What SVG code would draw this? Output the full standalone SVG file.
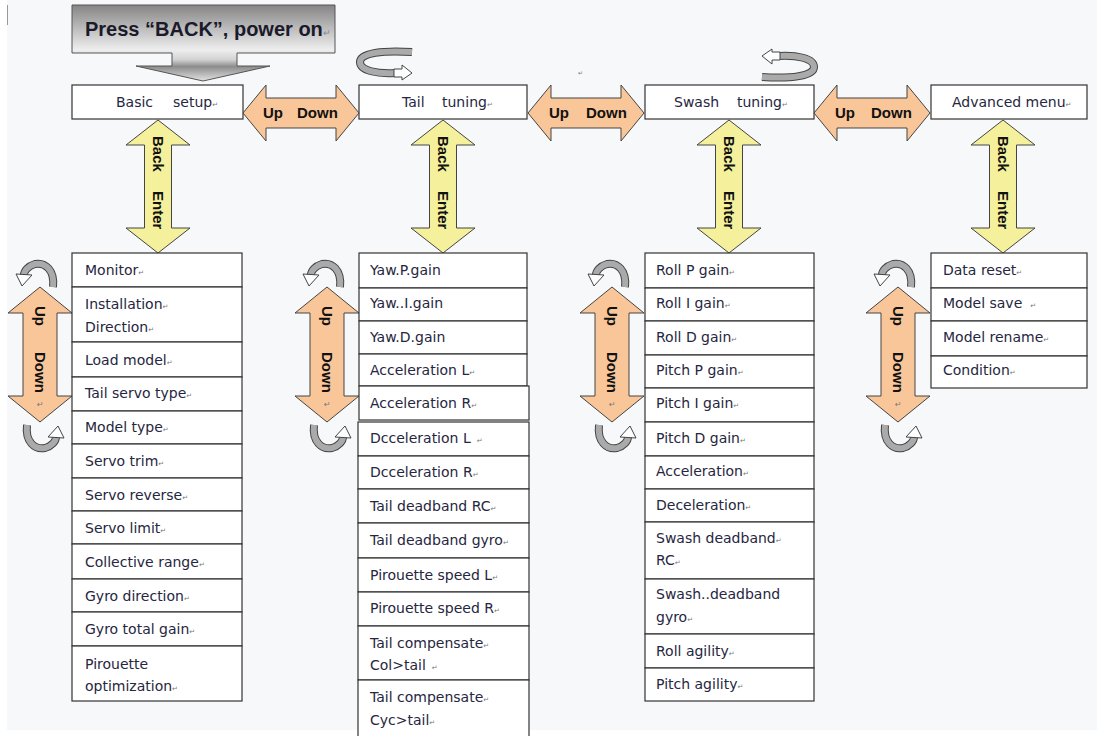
<svg xmlns="http://www.w3.org/2000/svg" xmlns:xlink="http://www.w3.org/1999/xlink" width="1097" height="736" viewBox="0 0 1097 736">
<style>
.box{fill:#fff;stroke:#333;stroke-width:1.2}
.t{font-family:"DejaVu Sans","Liberation Sans",sans-serif;font-size:14px;fill:#262640}
.m{font-size:7px;fill:#777}
.b{font-family:"Liberation Sans",Arial,sans-serif;font-weight:bold;font-size:15px;fill:#111}
.ud{fill:#f9c699;stroke:#444;stroke-width:1}
.be{fill:#f4f09b;stroke:#444;stroke-width:1}
.bandO{fill:none;stroke:#444;stroke-width:8}
.bandI{fill:none;stroke:#aaa;stroke-width:6}
.ah{fill:#fff;stroke:#444;stroke-width:1}
</style>
<defs>
<linearGradient id="gg" gradientUnits="userSpaceOnUse" x1="0" y1="5" x2="0" y2="81">
<stop offset="0" stop-color="#858585"/>
<stop offset="0.59" stop-color="#eeeeee"/>
<stop offset="0.72" stop-color="#d2d2d2"/>
<stop offset="0.81" stop-color="#8c8c8c"/>
<stop offset="1" stop-color="#e2e2e2"/>
</linearGradient>
<g id="loopV">
<path class="bandO" d="M13 25 C15 8 5 0 -5 2 C-12 4 -16 9 -16 13"/>
<path class="bandI" d="M13 25 C15 8 5 0 -5 2 C-12 4 -16 9 -16 13"/>
<polygon class="ah" points="-24,12 -8,13 -18,24"/>
</g>
<g id="loopH">
<path class="bandO" d="M54 5 C25 3 2 6 2 15 C2 24 20 27 37 26"/>
<path class="bandI" d="M54 5 C25 3 2 6 2 15 C2 24 20 27 37 26"/>
<polygon class="ah" points="36,22 44,22 44,18 54,26 44,33 44,30 36,30"/>
</g>
</defs>
<rect x="0" y="0" width="1097" height="736" fill="#fff"/>
<rect x="7" y="0" width="1090" height="730" fill="#f7f8fa"/>
<line x1="7.5" y1="5" x2="7.5" y2="25" stroke="#999" stroke-width="1"/>

<g id="start">
<polygon points="72,5 335,5 335,53 237,53 237,66 270,66 203,81 136,66 172,66 172,53 72,53" fill="url(#gg)" stroke="#555" stroke-width="1"/>
<text x="85" y="36" font-family="Liberation Sans, Arial, sans-serif" font-weight="bold" font-size="20" fill="#1a1a2a">Press “BACK”, power on<tspan font-size="9" fill="#888" font-weight="normal">↵</tspan></text>
</g>

<g id="loops-top">
<use xlink:href="#loopH" transform="translate(358,47)"/>
<use xlink:href="#loopH" transform="translate(816,82) rotate(180)"/>
<text x="578" y="75" font-family="DejaVu Sans, sans-serif" font-size="6" fill="#777">↵</text>
</g>

<g id="basic-setup">
<rect class="box" x="72" y="85" width="171" height="34"/>
<text class="t" x="116" y="107">Basic</text><text class="t" x="173" y="107">setup<tspan class="m">↵</tspan></text>
</g>
<g id="tail-tuning">
<rect class="box" x="359" y="85" width="168" height="34"/>
<text class="t" x="402" y="107">Tail</text><text class="t" x="442" y="107">tuning<tspan class="m">↵</tspan></text>
</g>
<g id="swash-tuning">
<rect class="box" x="645" y="85" width="169" height="34"/>
<text class="t" x="674" y="107">Swash</text><text class="t" x="737" y="107">tuning<tspan class="m">↵</tspan></text>
</g>
<g id="advanced-menu">
<rect class="box" x="931" y="85" width="156" height="34"/>
<text class="t" x="952" y="107">Advanced menu<tspan class="m">↵</tspan></text>
</g>

<g id="connectors">
<polygon class="ud" points="243,113 266,85 266,98 336,98 336,85 359,113 336,141 336,128 266,128 266,141"/>
<text class="b" x="263" y="118">Up</text><text class="b" x="297" y="118">Down</text>
<polygon class="ud" points="528,113 551,85 551,98 621,98 621,85 644,113 621,141 621,128 551,128 551,141"/>
<text class="b" x="549" y="118">Up</text><text class="b" x="586" y="118">Down</text>
<polygon class="ud" points="814,113 837,85 837,98 907,98 907,85 930,113 907,141 907,128 837,128 837,141"/>
<text class="b" x="835" y="118">Up</text><text class="b" x="871" y="118">Down</text>

<polygon class="be" points="158,120 190,145 171.5,145 171.5,228 190,228 158,253 126,228 144.5,228 144.5,145 126,145"/>
<text class="b" transform="translate(153,136) rotate(90)">Back</text>
<text class="b" transform="translate(153,191) rotate(90)">Enter</text>
<polygon class="be" points="443,120 475,145 456.5,145 456.5,228 475,228 443,253 411,228 429.5,228 429.5,145 411,145"/>
<text class="b" transform="translate(438,136) rotate(90)">Back</text>
<text class="b" transform="translate(438,191) rotate(90)">Enter</text>
<polygon class="be" points="729,120 761,145 742.5,145 742.5,228 761,228 729,253 697,228 715.5,228 715.5,145 697,145"/>
<text class="b" transform="translate(724,136) rotate(90)">Back</text>
<text class="b" transform="translate(724,191) rotate(90)">Enter</text>
<polygon class="be" points="1003,120 1035,145 1016.5,145 1016.5,228 1035,228 1003,253 971,228 989.5,228 989.5,145 971,145"/>
<text class="b" transform="translate(998,136) rotate(90)">Back</text>
<text class="b" transform="translate(998,191) rotate(90)">Enter</text>

<polygon class="ud" points="40,287 72,313 57,313 57,396 72,396 40,422 8,396 23,396 23,313 8,313"/>
<text class="b" transform="translate(35,306) rotate(90)">Up</text>
<text class="b" transform="translate(35,352) rotate(90)">Down</text>
<text x="37" y="407" font-family="DejaVu Sans, sans-serif" font-size="8" fill="#777">↵</text>
<polygon class="ud" points="327,287 359,313 344,313 344,396 359,396 327,422 295,396 310,396 310,313 295,313"/>
<text class="b" transform="translate(322,306) rotate(90)">Up</text>
<text class="b" transform="translate(322,352) rotate(90)">Down</text>
<text x="324" y="407" font-family="DejaVu Sans, sans-serif" font-size="8" fill="#777">↵</text>
<polygon class="ud" points="612,287 644,313 629,313 629,396 644,396 612,422 580,396 595,396 595,313 580,313"/>
<text class="b" transform="translate(607,306) rotate(90)">Up</text>
<text class="b" transform="translate(607,352) rotate(90)">Down</text>
<text x="609" y="407" font-family="DejaVu Sans, sans-serif" font-size="8" fill="#777">↵</text>
<polygon class="ud" points="898,287 930,313 915,313 915,396 930,396 898,422 866,396 881,396 881,313 866,313"/>
<text class="b" transform="translate(893,306) rotate(90)">Up</text>
<text class="b" transform="translate(893,352) rotate(90)">Down</text>
<text x="895" y="407" font-family="DejaVu Sans, sans-serif" font-size="8" fill="#777">↵</text>

<use xlink:href="#loopV" transform="translate(40,262)"/>
<use xlink:href="#loopV" transform="translate(40,450) rotate(180)"/>
<use xlink:href="#loopV" transform="translate(327,262)"/>
<use xlink:href="#loopV" transform="translate(327,450) rotate(180)"/>
<use xlink:href="#loopV" transform="translate(612,262)"/>
<use xlink:href="#loopV" transform="translate(612,450) rotate(180)"/>
<use xlink:href="#loopV" transform="translate(898,262)"/>
<use xlink:href="#loopV" transform="translate(898,450) rotate(180)"/>
</g>

<g id="basic-list">
<rect class="box" x="72" y="253" width="170" height="34"/><text class="t" x="85" y="275">Monitor<tspan class="m">↵</tspan></text>
<rect class="box" x="72" y="287" width="170" height="55"/><text class="t" x="85" y="309">Installation<tspan class="m">↵</tspan></text><text class="t" x="85" y="332">Direction<tspan class="m">↵</tspan></text>
<rect class="box" x="72" y="342" width="170" height="35"/><text class="t" x="85" y="365">Load model<tspan class="m">↵</tspan></text>
<rect class="box" x="72" y="377" width="170" height="34"/><text class="t" x="85" y="398">Tail servo type<tspan class="m">↵</tspan></text>
<rect class="box" x="72" y="411" width="170" height="33"/><text class="t" x="85" y="432">Model type<tspan class="m">↵</tspan></text>
<rect class="box" x="72" y="444" width="170" height="34"/><text class="t" x="85" y="466">Servo trim<tspan class="m">↵</tspan></text>
<rect class="box" x="72" y="478" width="170" height="33"/><text class="t" x="85" y="500">Servo reverse<tspan class="m">↵</tspan></text>
<rect class="box" x="72" y="511" width="170" height="33"/><text class="t" x="85" y="533">Servo limit<tspan class="m">↵</tspan></text>
<rect class="box" x="72" y="544" width="170" height="35"/><text class="t" x="85" y="567">Collective range<tspan class="m">↵</tspan></text>
<rect class="box" x="72" y="579" width="170" height="33"/><text class="t" x="85" y="601">Gyro direction<tspan class="m">↵</tspan></text>
<rect class="box" x="72" y="612" width="170" height="34"/><text class="t" x="85" y="634">Gyro total gain<tspan class="m">↵</tspan></text>
<rect class="box" x="72" y="646" width="170" height="55"/><text class="t" x="85" y="669">Pirouette</text><text class="t" x="85" y="691">optimization<tspan class="m">↵</tspan></text>
</g>

<g id="tail-list">
<rect class="box" x="359" y="253" width="168" height="35"/><text class="t" x="370" y="275">Yaw.P.gain</text>
<rect class="box" x="359" y="288" width="168" height="33"/><text class="t" x="370" y="308">Yaw..I.gain</text>
<rect class="box" x="359" y="321" width="168" height="33"/><text class="t" x="370" y="342">Yaw.D.gain</text>
<rect class="box" x="359" y="354" width="168" height="32"/><text class="t" x="370" y="375">Acceleration L<tspan class="m">↵</tspan></text>
<rect class="box" x="359" y="386" width="170" height="34"/><text class="t" x="370" y="408">Acceleration R<tspan class="m">↵</tspan></text>
<rect class="box" x="358" y="422" width="171" height="34"/><text class="t" x="370" y="443">Dcceleration L<tspan class="m" dx="6">↵</tspan></text>
<rect class="box" x="358" y="456" width="171" height="33"/><text class="t" x="370" y="477">Dcceleration R<tspan class="m">↵</tspan></text>
<rect class="box" x="358" y="489" width="171" height="34"/><text class="t" x="370" y="511">Tail deadband RC<tspan class="m">↵</tspan></text>
<rect class="box" x="358" y="523" width="171" height="35"/><text class="t" x="370" y="545">Tail deadband gyro<tspan class="m">↵</tspan></text>
<rect class="box" x="358" y="558" width="171" height="34"/><text class="t" x="370" y="580">Pirouette speed L<tspan class="m">↵</tspan></text>
<rect class="box" x="358" y="592" width="171" height="34"/><text class="t" x="370" y="613">Pirouette speed R<tspan class="m">↵</tspan></text>
<rect class="box" x="358" y="626" width="171" height="54"/><text class="t" x="370" y="648">Tail compensate<tspan class="m">↵</tspan></text><text class="t" x="370" y="670">Col&gt;tail<tspan class="m" dx="6">↵</tspan></text>
<rect class="box" x="358" y="680" width="171" height="62"/><text class="t" x="370" y="702">Tail compensate<tspan class="m">↵</tspan></text><text class="t" x="370" y="725">Cyc&gt;tail<tspan class="m">↵</tspan></text>
</g>

<g id="swash-list">
<rect class="box" x="645" y="253" width="169" height="35"/><text class="t" x="656" y="275">Roll P gain<tspan class="m">↵</tspan></text>
<rect class="box" x="645" y="288" width="169" height="33"/><text class="t" x="656" y="308">Roll I gain<tspan class="m">↵</tspan></text>
<rect class="box" x="645" y="321" width="169" height="34"/><text class="t" x="656" y="342">Roll D gain<tspan class="m">↵</tspan></text>
<rect class="box" x="645" y="355" width="169" height="33"/><text class="t" x="656" y="375">Pitch P gain<tspan class="m">↵</tspan></text>
<rect class="box" x="645" y="388" width="169" height="34"/><text class="t" x="656" y="408">Pitch I gain<tspan class="m">↵</tspan></text>
<rect class="box" x="645" y="422" width="169" height="34"/><text class="t" x="656" y="443">Pitch D gain<tspan class="m">↵</tspan></text>
<rect class="box" x="645" y="456" width="169" height="33"/><text class="t" x="656" y="476">Acceleration<tspan class="m">↵</tspan></text>
<rect class="box" x="645" y="489" width="169" height="33"/><text class="t" x="656" y="510">Deceleration<tspan class="m">↵</tspan></text>
<rect class="box" x="645" y="522" width="169" height="57"/><text class="t" x="656" y="543">Swash deadband<tspan class="m">↵</tspan></text><text class="t" x="656" y="565">RC<tspan class="m">↵</tspan></text>
<rect class="box" x="645" y="579" width="169" height="55"/><text class="t" x="656" y="599">Swash..deadband</text><text class="t" x="656" y="622">gyro<tspan class="m">↵</tspan></text>
<rect class="box" x="645" y="634" width="169" height="34"/><text class="t" x="656" y="656">Roll agility<tspan class="m">↵</tspan></text>
<rect class="box" x="645" y="668" width="169" height="33"/><text class="t" x="656" y="689">Pitch agility<tspan class="m">↵</tspan></text>
</g>

<g id="advanced-list">
<rect class="box" x="931" y="253" width="156" height="35"/><text class="t" x="943" y="275">Data reset<tspan class="m">↵</tspan></text>
<rect class="box" x="931" y="288" width="156" height="33"/><text class="t" x="943" y="308">Model save<tspan class="m" dx="8">↵</tspan></text>
<rect class="box" x="931" y="321" width="156" height="35"/><text class="t" x="943" y="342">Model rename<tspan class="m">↵</tspan></text>
<rect class="box" x="931" y="356" width="156" height="32"/><text class="t" x="943" y="375">Condition<tspan class="m">↵</tspan></text>
</g>
</svg>
